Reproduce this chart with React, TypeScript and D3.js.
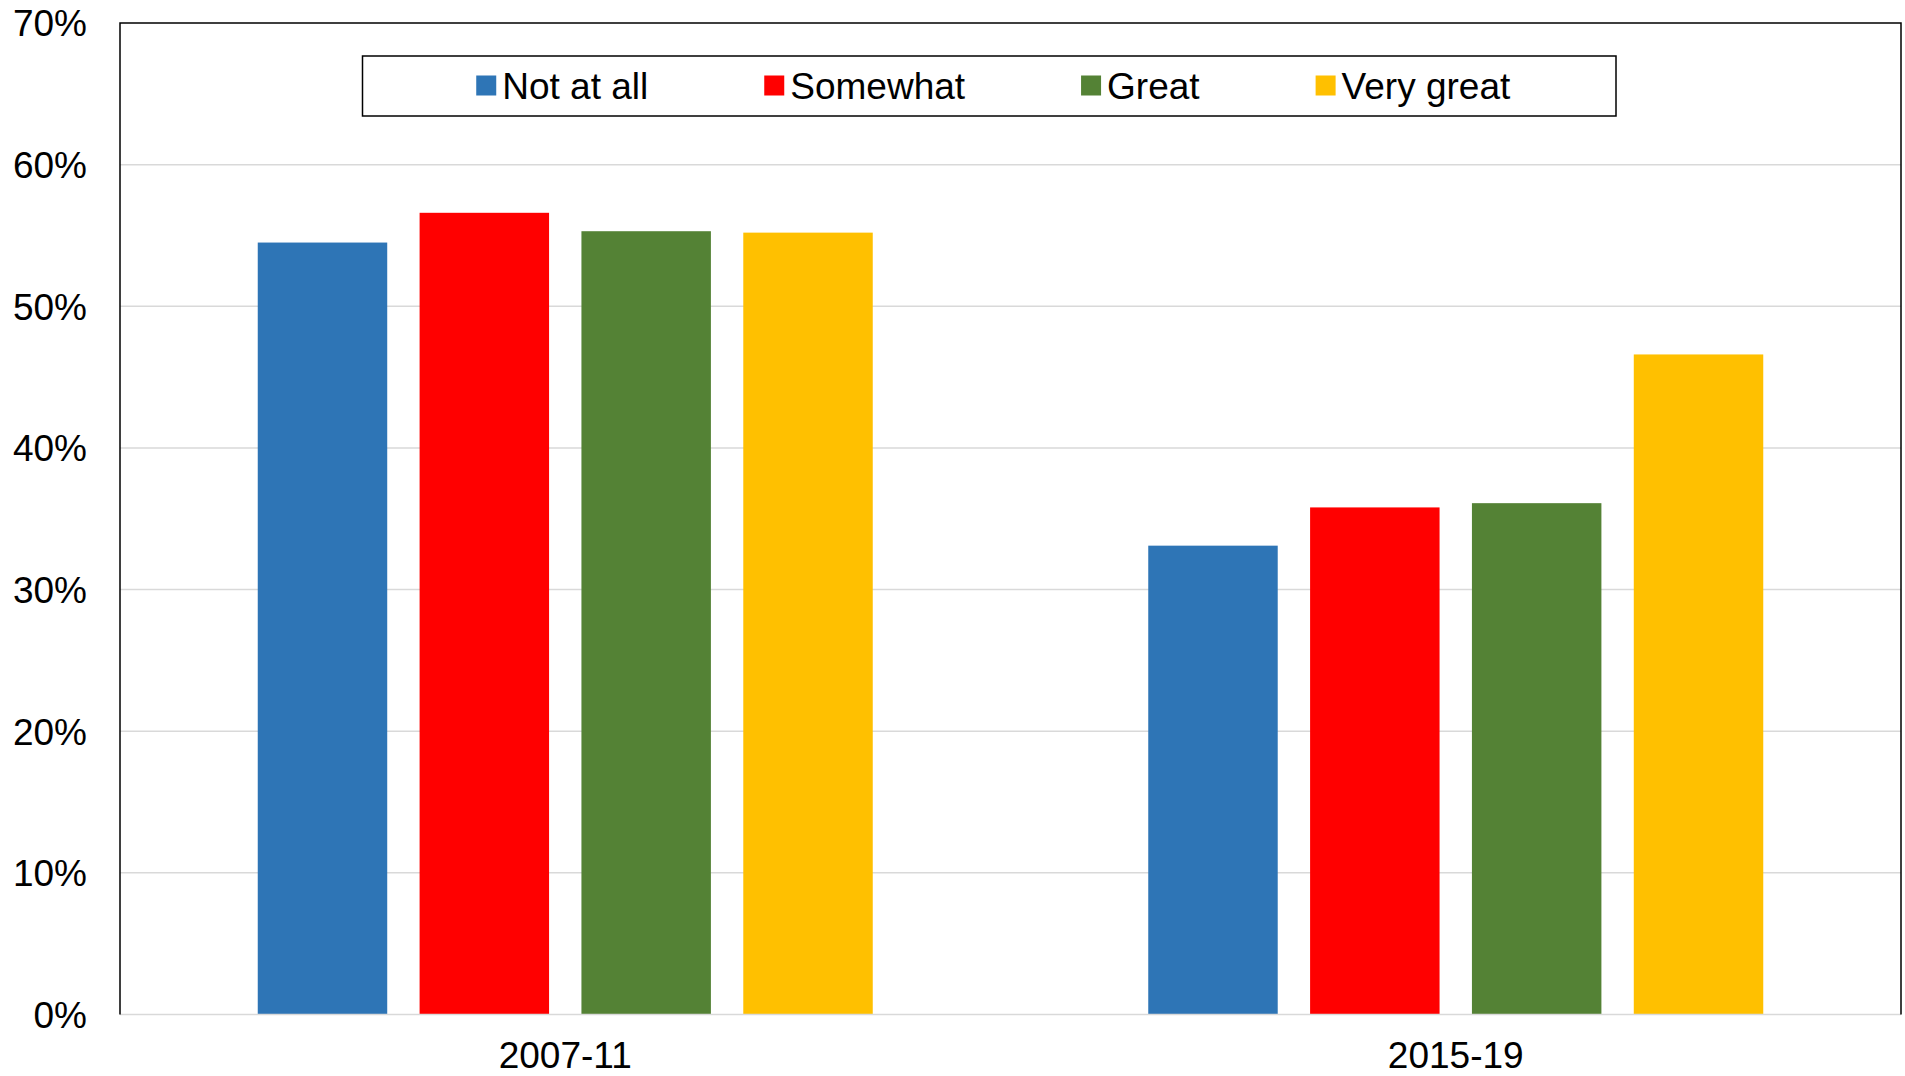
import * as d3 from 'd3';
import { useEffect, useRef } from 'react';

// Share of respondents, by period and by degree
const PERIODS = ['2007-11', '2015-19'];
const SERIES = ['Not at all', 'Somewhat', 'Great', 'Very great'];
const COLORS = ['#2E75B6', '#FF0000', '#548235', '#FFC000'];
const VALUES_2007 = [54.5, 56.6, 55.3, 55.2];
const VALUES_2015 = [33.1, 35.8, 36.1, 46.6];
const Y_TICKS = [0, 10, 20, 30, 40, 50, 60, 70];

const WIDTH = 1905;
const HEIGHT = 1076;
const PLOT = { left: 120, right: 1901, top: 23, bottom: 1014.5 };
const FONT = '"Liberation Sans", Arial, sans-serif';

export default function App() {
  const svgRef = useRef<SVGSVGElement>(null);

  useEffect(() => {
    if (!svgRef.current) return;
    const svg = d3.select(svgRef.current);
    svg.selectAll('*').remove();

    const rows = PERIODS.map((p, i) => ({
      period: p,
      values: i === 0 ? VALUES_2007 : VALUES_2015,
    }));

    const y = d3.scaleLinear().domain([0, 70]).range([PLOT.bottom, PLOT.top]);
    const x0 = d3.scaleBand<string>().domain(PERIODS).range([PLOT.left, PLOT.right]).padding(0);
    const groupW = 615;
    const off = (x0.bandwidth() - groupW) / 2;
    const x1 = d3.scaleBand<string>().domain(SERIES).range([off, off + groupW]).paddingInner(0.2).paddingOuter(0);

    // gridlines
    svg.append('g')
      .selectAll('line')
      .data(Y_TICKS.filter(t => t > 0 && t < 70))
      .join('line')
      .attr('x1', PLOT.left)
      .attr('x2', PLOT.right)
      .attr('y1', d => y(d))
      .attr('y2', d => y(d))
      .attr('stroke', '#D9D9D9')
      .attr('stroke-width', 1.5);

    // bars
    svg.append('g')
      .selectAll('g')
      .data(rows)
      .join('g')
      .attr('transform', d => `translate(${x0(d.period)},0)`)
      .selectAll('rect')
      .data(d => d.values.map((v, i) => ({ key: SERIES[i], v, c: COLORS[i] })))
      .join('rect')
      .attr('x', d => x1(d.key)!)
      .attr('y', d => y(d.v))
      .attr('width', x1.bandwidth())
      .attr('height', d => y(0) - y(d.v))
      .attr('fill', d => d.c);

    // baseline (category axis)
    svg.append('line')
      .attr('x1', PLOT.left).attr('x2', PLOT.right)
      .attr('y1', y(0)).attr('y2', y(0))
      .attr('stroke', '#D9D9D9').attr('stroke-width', 1.5);

    // frame: top, left, right
    svg.append('path')
      .attr('d', `M${PLOT.left},${PLOT.bottom}V${PLOT.top}H${PLOT.right}V${PLOT.bottom}`)
      .attr('fill', 'none')
      .attr('stroke', '#000')
      .attr('stroke-width', 1.5);

    // y tick labels
    svg.append('g')
      .selectAll('text')
      .data(Y_TICKS)
      .join('text')
      .attr('x', 87)
      .attr('y', d => y(d))
      .attr('dy', '0.36em')
      .attr('text-anchor', 'end')
      .attr('font-family', FONT)
      .attr('font-size', 37)
      .attr('fill', '#000')
      .text(d => `${d}%`);

    // x labels
    svg.append('g')
      .selectAll('text')
      .data(PERIODS)
      .join('text')
      .attr('x', d => x0(d)! + x0.bandwidth() / 2)
      .attr('y', 1068)
      .attr('text-anchor', 'middle')
      .attr('font-family', FONT)
      .attr('font-size', 37)
      .attr('fill', '#000')
      .text(d => d);

    // legend
    const lg = { x: 362.5, y: 56, w: 1253.5, h: 60 };
    svg.append('rect')
      .attr('x', lg.x).attr('y', lg.y).attr('width', lg.w).attr('height', lg.h)
      .attr('fill', '#fff').attr('stroke', '#000').attr('stroke-width', 1.5);

    const items = svg.append('g');
    const SQ = 20;
    const TXT_GAP = 6;
    const ITEM_GAP = 116;
    const nodes = SERIES.map((s, i) => {
      const g = items.append('g');
      g.append('rect').attr('width', SQ).attr('height', SQ).attr('y', -SQ / 2).attr('fill', COLORS[i]);
      const t = g.append('text')
        .attr('x', SQ + TXT_GAP)
        .attr('dy', '0.36em')
        .attr('font-family', FONT)
        .attr('font-size', 37)
        .attr('fill', '#000')
        .text(s);
      const tw = (t.node() as SVGTextElement).getComputedTextLength();
      return { g, w: SQ + TXT_GAP + tw };
    });
    const total = d3.sum(nodes, n => n.w) + ITEM_GAP * (nodes.length - 1);
    let cx = lg.x + (lg.w - total) / 2 + 4;
    nodes.forEach(n => {
      n.g.attr('transform', `translate(${cx},${lg.y + lg.h / 2 - 0.5})`);
      cx += n.w + ITEM_GAP;
    });
  }, []);

  return (
    <svg
      ref={svgRef}
      width={WIDTH}
      height={HEIGHT}
      style={{ position: 'fixed', left: 0, top: 0, background: '#fff' }}
    />
  );
}
